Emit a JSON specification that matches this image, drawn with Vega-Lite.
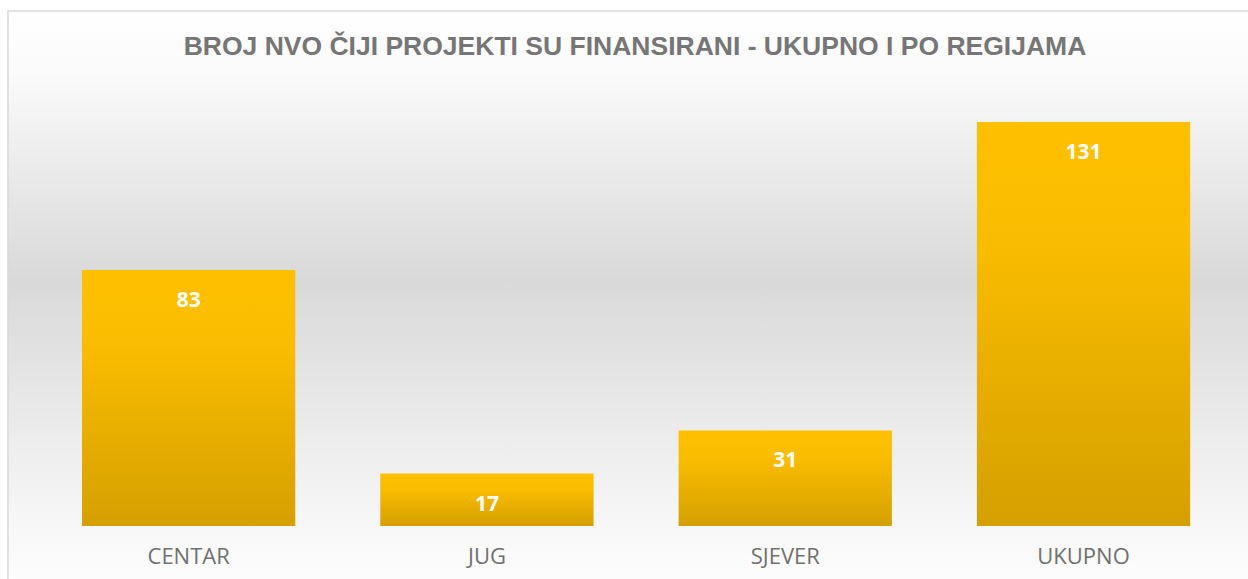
{
  "$schema": "https://vega.github.io/schema/vega-lite/v6.json",
  "width": 1242,
  "height": 571,
  "autosize": {"type": "none"},
  "padding": {"left": 8, "top": 11, "right": 0, "bottom": 0},
  "background": "#ffffff",
  "title": {
    "text": "BROJ NVO ČIJI PROJEKTI SU FINANSIRANI - UKUPNO I PO REGIJAMA",
    "anchor": "middle",
    "frame": "group",
    "offset": -62,
    "baseline": "middle",
    "font": "Liberation Sans",
    "fontSize": 26.5,
    "fontWeight": "bold",
    "color": "#767676",
    "dx": 6
  },
  "data": {
    "values": [
      {"regija": "CENTAR", "broj": 83},
      {"regija": "JUG", "broj": 17},
      {"regija": "SJEVER", "broj": 31},
      {"regija": "UKUPNO", "broj": 131}
    ]
  },
  "encoding": {
    "x": {
      "field": "regija",
      "type": "nominal",
      "sort": null,
      "scale": {"paddingInner": 0.285, "paddingOuter": 0.2243, "align": 0.553},
      "axis": {
        "title": null,
        "orient": "bottom",
        "offset": -56,
        "domain": false,
        "ticks": false,
        "labelAngle": 0,
        "labelBaseline": "middle",
        "labelPadding": 30,
        "labelFont": "Open Sans",
        "labelFontSize": 22,
        "labelColor": "#707070"
      }
    },
    "y": {
      "field": "broj",
      "type": "quantitative",
      "scale": {"domain": [-18.16, 167], "nice": false, "zero": false},
      "axis": null
    }
  },
  "layer": [
    {
      "mark": {
        "type": "bar",
        "color": {
          "gradient": "linear",
          "x1": 0, "y1": 0, "x2": 0, "y2": 1,
          "stops": [
            {"offset": 0, "color": "#FFC000"},
            {"offset": 0.3, "color": "#F9BC00"},
            {"offset": 1, "color": "#D5A000"}
          ]
        }
      },
      "encoding": {"y2": {"datum": 0}}
    },
    {
      "mark": {
        "type": "text",
        "dy": 31,
        "baseline": "middle",
        "font": "Open Sans",
        "fontSize": 21,
        "fontWeight": "bold",
        "color": "#ffffff"
      },
      "encoding": {"text": {"field": "broj", "type": "quantitative"}}
    }
  ],
  "config": {
    "view": {
      "stroke": "#d9d9d9",
      "strokeWidth": 1.5,
      "fill": {
        "gradient": "linear",
        "x1": 0, "y1": 0, "x2": 0, "y2": 1,
        "stops": [
          {"offset": 0, "color": "#ffffff"},
          {"offset": 0.1, "color": "#fbfbfb"},
          {"offset": 0.47, "color": "#d9d9d9"},
          {"offset": 0.9, "color": "#f7f7f7"},
          {"offset": 1, "color": "#fdfdfd"}
        ]
      }
    }
  }
}
